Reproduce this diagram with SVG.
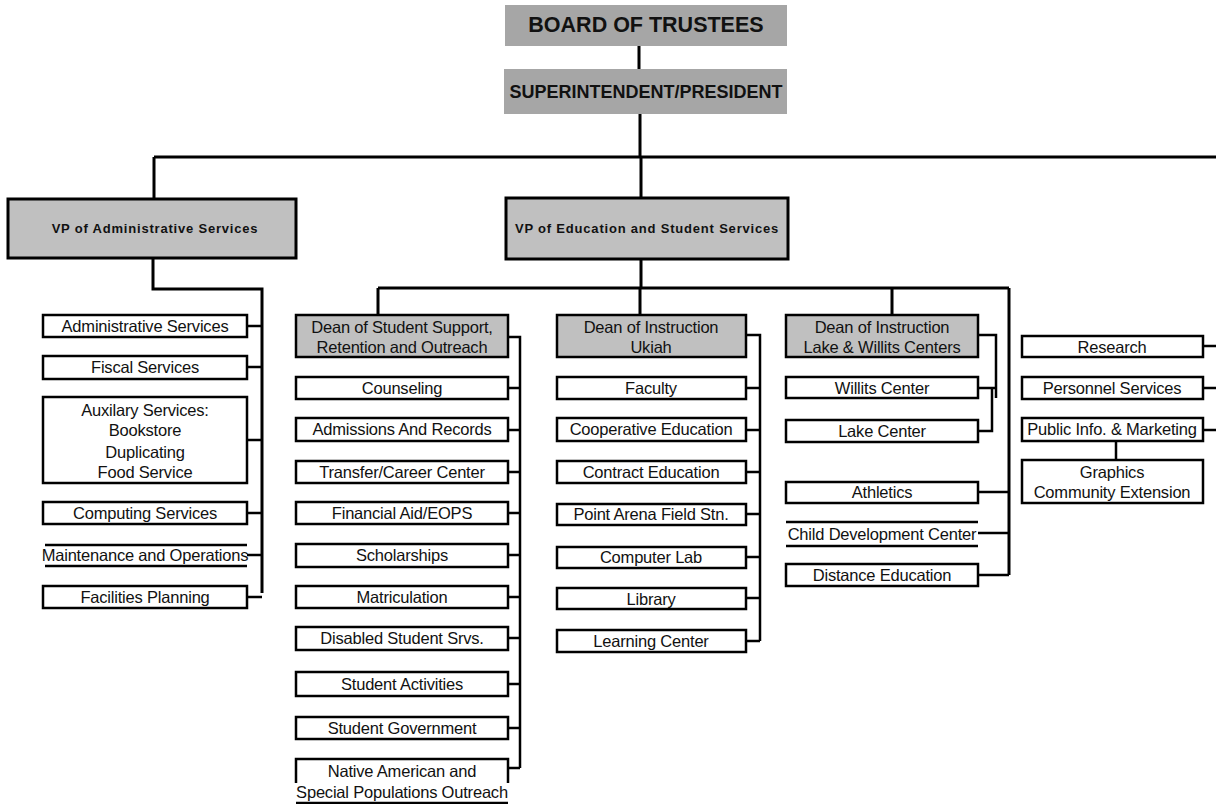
<svg xmlns="http://www.w3.org/2000/svg" width="1216" height="804" viewBox="0 0 1216 804">
<style>
.bg{fill:#fff}
.top{fill:#a6a6a6;stroke:none}
.vp{fill:#c0c0c0;stroke:#000;stroke-width:3}
.dean{fill:#c0c0c0;stroke:#000;stroke-width:2.5}
.box{fill:#fff;stroke:#000;stroke-width:2.5}
.ln{fill:none;stroke:#000;stroke-width:2.5}
.ln3{fill:none;stroke:#000;stroke-width:3}
text{font-family:"Liberation Sans",Arial,sans-serif;text-anchor:middle;fill:#111}
.t{font-size:16.5px;letter-spacing:-0.2px}
.vt{font-size:13px;font-weight:bold;letter-spacing:0.8px}
.h1{font-size:21.5px;font-weight:bold}
.h2{font-size:18px;font-weight:bold}
</style>
<rect class="bg" x="0" y="0" width="1216" height="804"/>
<g id="connectors">
<path class="ln3" d="M639 46V69M640 114V157M154 157H1216M154 157V199M641 157V198"/>
<path class="ln3" d="M153 258V289H262V593"/>
<path class="ln" d="M247 326H262M247 367H262M247 440H262M247 513H262M247 555H262M247 597H262"/>
<path class="ln3" d="M641 259V288M378 288H1009M378 288V315M640 288V315M892 288V315M1009 288V575"/>
<path class="ln" d="M508 337H520V768M508 388H520M508 430H520M508 472H520M508 513H520M508 555H520M508 597H520M508 638H520M508 684H520M508 728H520M508 768H520"/>
<path class="ln" d="M746 335H760V641M746 388H760M746 430H760M746 472H760M746 514H760M746 557H760M746 598H760M746 641H760"/>
<path class="ln" d="M978 335H996V398M978 388H996M992 388V431H978"/>
<path class="ln" d="M978 492H1009M978 533H1009M978 575H1009"/>
<path class="ln" d="M1203 346H1216M1203 388H1216M1203 430H1216M1116 441V460"/>
</g>
<g id="board"><rect class="top" x="505" y="5" width="282" height="41"/><text class="h1" x="646" y="32">BOARD OF TRUSTEES</text></g>
<g id="superintendent"><rect class="top" x="504" y="69" width="283" height="45"/><text class="h2" x="646" y="98">SUPERINTENDENT/PRESIDENT</text></g>
<g id="vp-admin"><rect class="vp" x="8" y="199" width="288" height="59"/><text class="vt" x="155" y="233">VP of Administrative Services</text></g>
<g id="vp-edu"><rect class="vp" x="506" y="198" width="282" height="61"/><text class="vt" x="647" y="233">VP of Education and Student Services</text></g>

<g id="admin-services"><rect class="box" x="43" y="315" width="204" height="22"/><text class="t" x="145" y="332">Administrative Services</text></g>
<g id="fiscal"><rect class="box" x="43" y="356" width="204" height="23"/><text class="t" x="145" y="373">Fiscal Services</text></g>
<g id="auxilary"><rect class="box" x="43" y="397" width="204" height="86"/><text class="t" x="145" y="416">Auxilary Services:</text><text class="t" x="145" y="436">Bookstore</text><text class="t" x="145" y="458">Duplicating</text><text class="t" x="145" y="478">Food Service</text></g>
<g id="computing"><rect class="box" x="43" y="502" width="204" height="22"/><text class="t" x="145" y="519">Computing Services</text></g>
<g id="maintenance"><path class="ln" d="M45 545H247M45 566H247"/><text class="t" x="145" y="561">Maintenance and Operations</text></g>
<g id="facilities"><rect class="box" x="43" y="586" width="204" height="22"/><text class="t" x="145" y="603">Facilities Planning</text></g>

<g id="dean-support"><rect class="dean" x="296" y="315" width="212" height="42"/><text class="t" x="402" y="333">Dean of Student Support,</text><text class="t" x="402" y="353">Retention and Outreach</text></g>
<g id="counseling"><rect class="box" x="296" y="377" width="212" height="22"/><text class="t" x="402" y="394">Counseling</text></g>
<g id="admissions"><rect class="box" x="296" y="418" width="212" height="23"/><text class="t" x="402" y="435">Admissions And Records</text></g>
<g id="transfer"><rect class="box" x="296" y="461" width="212" height="22"/><text class="t" x="402" y="478">Transfer/Career Center</text></g>
<g id="finaid"><rect class="box" x="296" y="502" width="212" height="22"/><text class="t" x="402" y="519">Financial Aid/EOPS</text></g>
<g id="scholarships"><rect class="box" x="296" y="544" width="212" height="23"/><text class="t" x="402" y="561">Scholarships</text></g>
<g id="matriculation"><rect class="box" x="296" y="586" width="212" height="22"/><text class="t" x="402" y="603">Matriculation</text></g>
<g id="disabled"><rect class="box" x="296" y="627" width="212" height="23"/><text class="t" x="402" y="644">Disabled Student Srvs.</text></g>
<g id="activities"><rect class="box" x="296" y="672" width="212" height="24"/><text class="t" x="402" y="690">Student Activities</text></g>
<g id="government"><rect class="box" x="296" y="717" width="212" height="22"/><text class="t" x="402" y="734">Student Government</text></g>
<g id="native"><path class="ln" d="M296 783V759H508V783M296 803H508"/><text class="t" x="402" y="777">Native American and</text><text class="t" x="402" y="798">Special Populations Outreach</text></g>

<g id="dean-ukiah"><rect class="dean" x="557" y="315" width="189" height="42"/><text class="t" x="651" y="333">Dean of Instruction</text><text class="t" x="651" y="353">Ukiah</text></g>
<g id="faculty"><rect class="box" x="557" y="377" width="189" height="22"/><text class="t" x="651" y="394">Faculty</text></g>
<g id="coop"><rect class="box" x="557" y="418" width="189" height="23"/><text class="t" x="651" y="435">Cooperative Education</text></g>
<g id="contract"><rect class="box" x="557" y="461" width="189" height="22"/><text class="t" x="651" y="478">Contract Education</text></g>
<g id="pointarena"><rect class="box" x="557" y="504" width="189" height="21"/><text class="t" x="651" y="520">Point Arena Field Stn.</text></g>
<g id="complab"><rect class="box" x="557" y="547" width="189" height="21"/><text class="t" x="651" y="563">Computer Lab</text></g>
<g id="library"><rect class="box" x="557" y="588" width="189" height="21"/><text class="t" x="651" y="605">Library</text></g>
<g id="learning"><rect class="box" x="557" y="630" width="189" height="22"/><text class="t" x="651" y="647">Learning Center</text></g>

<g id="dean-lake"><rect class="dean" x="786" y="315" width="192" height="42"/><text class="t" x="882" y="333">Dean of Instruction</text><text class="t" x="882" y="353">Lake &amp; Willits Centers</text></g>
<g id="willits"><rect class="box" x="786" y="377" width="192" height="21"/><text class="t" x="882" y="394">Willits Center</text></g>
<g id="lake"><rect class="box" x="786" y="420" width="192" height="22"/><text class="t" x="882" y="437">Lake Center</text></g>
<g id="athletics"><rect class="box" x="786" y="482" width="192" height="21"/><text class="t" x="882" y="498">Athletics</text></g>
<g id="childdev"><path class="ln" d="M786 522H978M786 546H978"/><text class="t" x="882" y="540">Child Development Center</text></g>
<g id="distance"><rect class="box" x="786" y="564" width="192" height="22"/><text class="t" x="882" y="581">Distance Education</text></g>

<g id="research"><rect class="box" x="1022" y="336" width="181" height="21"/><text class="t" x="1112" y="353">Research</text></g>
<g id="personnel"><rect class="box" x="1022" y="377" width="181" height="22"/><text class="t" x="1112" y="394">Personnel Services</text></g>
<g id="publicinfo"><rect class="box" x="1022" y="418" width="181" height="23"/><text class="t" x="1112" y="435">Public Info. &amp; Marketing</text></g>
<g id="graphics"><rect class="box" x="1022" y="460" width="181" height="43"/><text class="t" x="1112" y="478">Graphics</text><text class="t" x="1112" y="498">Community Extension</text></g>
</svg>
